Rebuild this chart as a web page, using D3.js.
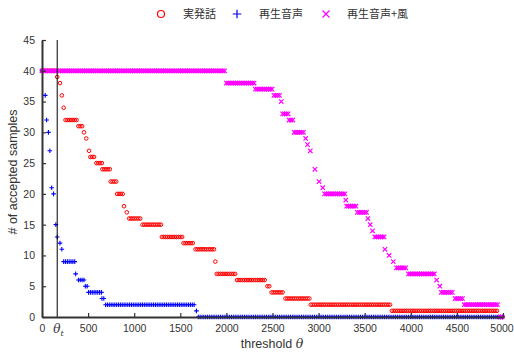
<!DOCTYPE html>
<html>
<head>
<meta charset="utf-8">
<script src="https://cdn.jsdelivr.net/npm/d3@7"></script>
<style>
  body { margin: 0; background: #fff; }
  text { font-family: "Liberation Sans", Arial, sans-serif; fill: #333; }
</style>
</head>
<body>
<script>
var width = 514, height = 354;

// runs of the step curves: [from threshold, to threshold, # accepted]
var realSpeech = [
  [0, 150, 40], [165, 165, 39], [195, 195, 38], [215, 215, 36], [235, 235, 34],
  [255, 375, 32], [395, 435, 31], [455, 455, 30], [480, 480, 29], [510, 510, 27],
  [525, 570, 26], [590, 650, 25], [655, 740, 24], [745, 810, 22], [815, 885, 20],
  [890, 890, 18], [920, 920, 17], [945, 1075, 16], [1090, 1290, 15], [1300, 1520, 13],
  [1535, 1650, 12], [1665, 1865, 11], [1880, 1880, 9], [1895, 2100, 7], [2115, 2430, 6],
  [2445, 2475, 5], [2490, 2625, 4], [2640, 2900, 3], [2915, 3780, 2], [3795, 4935, 1],
  [4955, 5000, 0]
];
var replayed = [
  [0, 20, 40], [35, 35, 36], [50, 50, 32], [70, 70, 30], [85, 85, 27],
  [105, 105, 21], [125, 125, 20], [150, 150, 15], [165, 165, 13], [195, 195, 12],
  [215, 215, 11], [235, 355, 9], [365, 365, 7], [395, 460, 6], [470, 495, 5],
  [505, 645, 4], [650, 680, 3], [690, 1660, 2], [1675, 1675, 1], [1695, 5000, 0]
];
var replayedWind = [
  [0, 1985, 40], [2000, 2300, 38], [2315, 2500, 37], [2515, 2580, 36], [2595, 2595, 35],
  [2610, 2670, 33], [2680, 2720, 32], [2735, 2850, 30], [2860, 2860, 29], [2880, 2880, 28],
  [2910, 2910, 27], [2960, 2960, 24], [3005, 3005, 22], [3045, 3045, 21], [3065, 3285, 20],
  [3295, 3295, 19], [3305, 3410, 18], [3420, 3525, 17], [3535, 3535, 16], [3560, 3560, 15],
  [3585, 3585, 14], [3610, 3710, 13], [3720, 3720, 11], [3765, 3765, 10], [3810, 3810, 9],
  [3845, 3960, 8], [3975, 4270, 7], [4280, 4280, 6], [4315, 4315, 5], [4330, 4465, 4],
  [4480, 4565, 3], [4580, 4950, 2], [4970, 5000, 0]
];
var sampleStep = 20;
var thetaT = 165;

var xTicks = [0, 500, 1000, 1500, 2000, 2500, 3000, 3500, 4000, 4500, 5000];
var yTicks = [0, 5, 10, 15, 20, 25, 30, 35, 40, 45];

var seriesNames = ["実発話", "再生音声", "再生音声+風"];

var x = d3.scaleLinear().domain([0, 5000]).range([42, 503]);
var y = d3.scaleLinear().domain([0, 45]).range([317, 40]);

var svg = d3.select("body").append("svg")
    .attr("width", width)
    .attr("height", height);

function expand(runs) {
  var pts = [];
  runs.forEach(function(r) {
    for (var t = r[0]; t <= r[1]; t += sampleStep) pts.push([t, r[2]]);
  });
  return pts;
}

var plusPath = "M-2.3,0H2.3M0,-2.3V2.3";
var crossPath = "M-2.2,-2.2L2.2,2.2M-2.2,2.2L2.2,-2.2";

// real speech - open circles
svg.append("g")
  .selectAll("circle")
  .data(expand(realSpeech))
  .enter().append("circle")
  .attr("cx", function(d) { return x(d[0]); })
  .attr("cy", function(d) { return y(d[1]); })
  .attr("r", 1.8)
  .attr("fill", "none")
  .attr("stroke", "#ff0000")
  .attr("stroke-width", 1);

// replayed - plus
svg.append("g")
  .selectAll("path")
  .data(expand(replayed))
  .enter().append("path")
  .attr("d", plusPath)
  .attr("transform", function(d) { return "translate(" + x(d[0]) + "," + y(d[1]) + ")"; })
  .attr("stroke", "#0000ff")
  .attr("stroke-width", 1.1);

// replayed + wind - cross
svg.append("g")
  .selectAll("path")
  .data(expand(replayedWind))
  .enter().append("path")
  .attr("d", crossPath)
  .attr("transform", function(d) { return "translate(" + x(d[0]) + "," + y(d[1]) + ")"; })
  .attr("stroke", "#ff00ff")
  .attr("stroke-width", 1.2);

// theta_t line
svg.append("line")
  .attr("x1", x(thetaT)).attr("x2", x(thetaT))
  .attr("y1", y(45)).attr("y2", y(0))
  .attr("stroke", "#000")
  .attr("stroke-width", 1);

// axes
var yAxis = svg.append("g")
  .attr("transform", "translate(" + x(0) + ",0)")
  .call(d3.axisLeft(y).tickValues(yTicks).tickSizeInner(-4).tickSizeOuter(0).tickPadding(7));
var xAxis = svg.append("g")
  .attr("transform", "translate(0," + y(0) + ")")
  .call(d3.axisBottom(x).tickValues(xTicks).tickFormat(d3.format("d"))
    .tickSizeInner(-4).tickSizeOuter(0).tickPadding(8));

[xAxis, yAxis].forEach(function(a) {
  a.select(".domain").attr("stroke", "#333").attr("stroke-width", 2);
  a.selectAll(".tick line").attr("stroke", "#333").attr("stroke-width", 1.2);
  a.selectAll(".tick text").attr("fill", "#333")
    .style("font-family", "'Liberation Sans', Arial, sans-serif")
    .style("font-size", "10.5px");
});
// keep the last label inside the page
xAxis.selectAll(".tick text").filter(function(d) { return d === 5000; }).attr("dx", -1.5);

// theta_t tick label
var tl = svg.append("text")
  .attr("x", x(thetaT) - 4)
  .attr("y", 333)
  .style("font-family", "'DejaVu Serif', serif")
  .style("font-style", "italic")
  .style("font-size", "12px");
tl.append("tspan").text("θ");
tl.append("tspan").attr("dy", 3).style("font-size", "8px").text("t");

// axis titles
var xl = svg.append("text")
  .attr("x", 272)
  .attr("y", 348)
  .attr("text-anchor", "middle")
  .style("font-size", "12.5px");
xl.append("tspan").text("threshold  ");
xl.append("tspan").style("font-family", "'DejaVu Serif', serif").style("font-style", "italic").text("θ");

svg.append("text")
  .attr("transform", "translate(17,172) rotate(-90)")
  .attr("text-anchor", "middle")
  .style("font-size", "12.5px")
  .text("# of accepted samples");

// legend
var legend = svg.append("g").attr("transform", "translate(0,14)");
legend.append("circle").attr("cx", 161).attr("cy", 0).attr("r", 3.5)
  .attr("fill", "none").attr("stroke", "#ff0000").attr("stroke-width", 1.2);
legend.append("path").attr("d", "M-4.3,0H4.3M0,-4.3V4.3").attr("transform", "translate(237,0)")
  .attr("stroke", "#0000ff").attr("stroke-width", 1.2);
legend.append("path").attr("d", "M-3.5,-3.5L3.5,3.5M-3.5,3.5L3.5,-3.5").attr("transform", "translate(326,0)")
  .attr("stroke", "#ff00ff").attr("stroke-width", 1.2);
var legendX = [183, 259, 347];
legend.selectAll("text.lg")
  .data(seriesNames)
  .enter().append("text")
  .attr("class", "lg")
  .attr("x", function(d, i) { return legendX[i]; })
  .attr("y", 0)
  .attr("dy", "0.35em")
  .style("font-family", "'Noto Sans CJK JP', sans-serif")
  .style("font-size", "11px")
  .text(function(d) { return d; });
</script>
</body>
</html>
